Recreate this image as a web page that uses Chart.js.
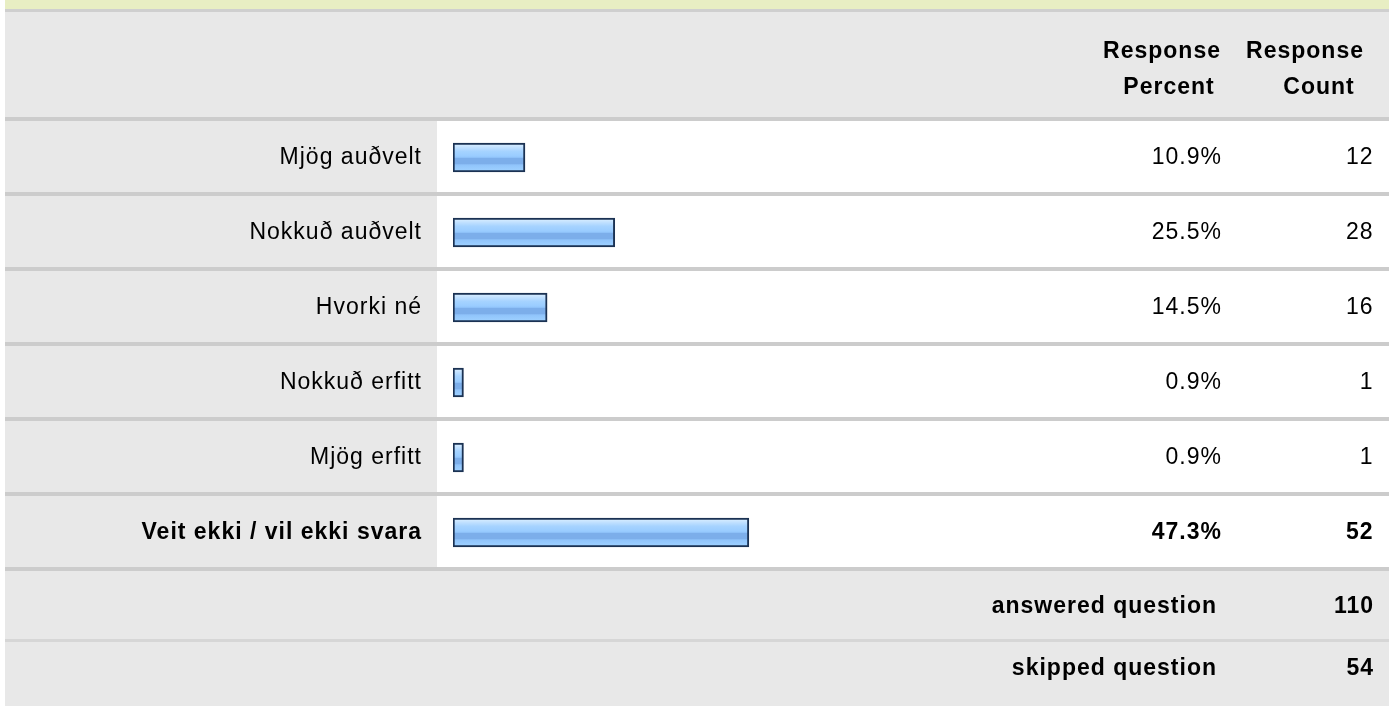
<!DOCTYPE html>
<html>
<head>
<meta charset="utf-8">
<script src="https://cdn.jsdelivr.net/npm/chart.js@4.4.0/dist/chart.umd.min.js"></script>
<style>
html, body { margin: 0; padding: 0; background: #ffffff; }
canvas { display: block; }
</style>
</head>
<body>
<canvas id="grafico" width="1395" height="706"></canvas>
<script>
var categorias = ["Mjög auðvelt", "Nokkuð auðvelt", "Hvorki né", "Nokkuð erfitt", "Mjög erfitt", "Veit ekki / vil ekki svara"];
var porcentajes = [10.9, 25.5, 14.5, 0.9, 0.9, 47.3];
var conteos = [12, 28, 16, 1, 1, 52];
var encabezados = [["Response", "Percent"], ["Response", "Count"]];
var resumenEtiquetas = ["answered question", "skipped question"];
var resumenValores = [110, 54];

var fuente = "'Liberation Sans', Arial, Helvetica, sans-serif";
var tamano = 23;
var espaciado = 1;
var minimoX = -0.8;

function esNegrita(i)
{
    return i === categorias.length - 1;
}

function rellenoBarra(context)
{
    var chart = context.chart;
    var escala = chart.scales.y;
    if (!escala || context.dataIndex === undefined) {
        return "#99ccff";
    }
    var centro = escala.getPixelForValue(context.dataIndex);
    if (!isFinite(centro)) {
        return "#99ccff";
    }
    var g = chart.ctx.createLinearGradient(0, centro - 12.5, 0, centro + 12.5);
    g.addColorStop(0, "#d2eaff");
    g.addColorStop(0.1, "#c0e0ff");
    g.addColorStop(0.25, "#a6d3ff");
    g.addColorStop(0.45, "#99ccff");
    g.addColorStop(0.5, "#8ec1f8");
    g.addColorStop(0.54, "#7caeea");
    g.addColorStop(0.74, "#7caeea");
    g.addColorStop(0.8, "#90c4fb");
    g.addColorStop(1, "#9ccfff");
    return g;
}

var tablaPlugin = {
    id: "tabla",
    beforeDraw: function(chart) {
        var ctx = chart.ctx;
        var area = chart.chartArea;
        var paso = (area.bottom - area.top) / categorias.length;
        ctx.save();
        ctx.fillStyle = "#ffffff";
        ctx.fillRect(0, 0, chart.width, chart.height);
        ctx.fillStyle = "#e8eec3";
        ctx.fillRect(5, 0, 1384, 9);
        ctx.fillStyle = "#cfcfcf";
        ctx.fillRect(5, 9, 1384, 3);
        ctx.fillStyle = "#e8e8e8";
        ctx.fillRect(5, 12, 1384, area.top - 12);
        ctx.fillRect(5, area.top, 432, area.bottom - area.top);
        ctx.fillRect(5, area.bottom, 1384, chart.height - area.bottom);
        ctx.fillStyle = "#cccccc";
        for (var k = 0; k <= categorias.length; k++) {
            ctx.fillRect(5, area.top + k * paso - 3, 1384, 4);
        }
        ctx.fillStyle = "#d6d6d6";
        ctx.fillRect(5, 639, 1384, 3);
        ctx.restore();
        ctx.letterSpacing = espaciado + "px";
    },
    afterDraw: function(chart) {
        var ctx = chart.ctx;
        var escala = chart.scales.y;
        ctx.save();
        ctx.letterSpacing = espaciado + "px";
        ctx.fillStyle = "#000000";
        ctx.textBaseline = "alphabetic";

        // encabezados
        ctx.font = "bold " + tamano + "px " + fuente;
        ctx.textAlign = "center";
        ctx.fillText(encabezados[0][0], 1162, 58);
        ctx.fillText(encabezados[0][1], 1169, 94);
        ctx.fillText(encabezados[1][0], 1305, 58);
        ctx.fillText(encabezados[1][1], 1319, 94);

        // columnas de valores
        ctx.textAlign = "right";
        for (var i = 0; i < categorias.length; i++) {
            var y = escala.getPixelForValue(i) + 6.5;
            ctx.font = (esNegrita(i) ? "bold " : "") + tamano + "px " + fuente;
            ctx.fillText(porcentajes[i].toFixed(1) + "%", 1222, y);
            ctx.fillText(String(conteos[i]), 1373.5, y);
        }

        // resumen
        var baseResumen = [613, 675];
        ctx.font = "bold " + tamano + "px " + fuente;
        for (var j = 0; j < resumenEtiquetas.length; j++) {
            ctx.fillText(resumenEtiquetas[j], 1217, baseResumen[j]);
            ctx.fillText(String(resumenValores[j]), 1374, baseResumen[j]);
        }
        ctx.restore();
    }
};

new Chart(document.getElementById("grafico"), {
    type: 'bar',
    data: {
        labels: categorias,
        datasets: [{
            data: porcentajes,
            base: minimoX,
            barThickness: 29,
            borderWidth: 2,
            borderColor: "#1b3253",
            borderSkipped: false,
            backgroundColor: rellenoBarra
        }]
    },
    options: {
        indexAxis: 'y',
        responsive: false,
        animation: false,
        devicePixelRatio: 1,
        layout: { padding: { top: 120, bottom: 136, left: 0, right: 322 } },
        plugins: {
            legend: { display: false },
            tooltip: { enabled: false }
        },
        scales: {
            x: { display: false, min: minimoX, max: 100 },
            y: {
                grid: { display: false, drawTicks: false },
                border: { display: false },
                ticks: {
                    color: "#000000",
                    padding: 31,
                    font: function(ctx) {
                        return { family: fuente, size: tamano, weight: esNegrita(ctx.index) ? "bold" : "normal" };
                    }
                },
                afterFit: function(scale) {
                    scale.width = 453;
                }
            }
        }
    },
    plugins: [tablaPlugin]
});
</script>
</body>
</html>
